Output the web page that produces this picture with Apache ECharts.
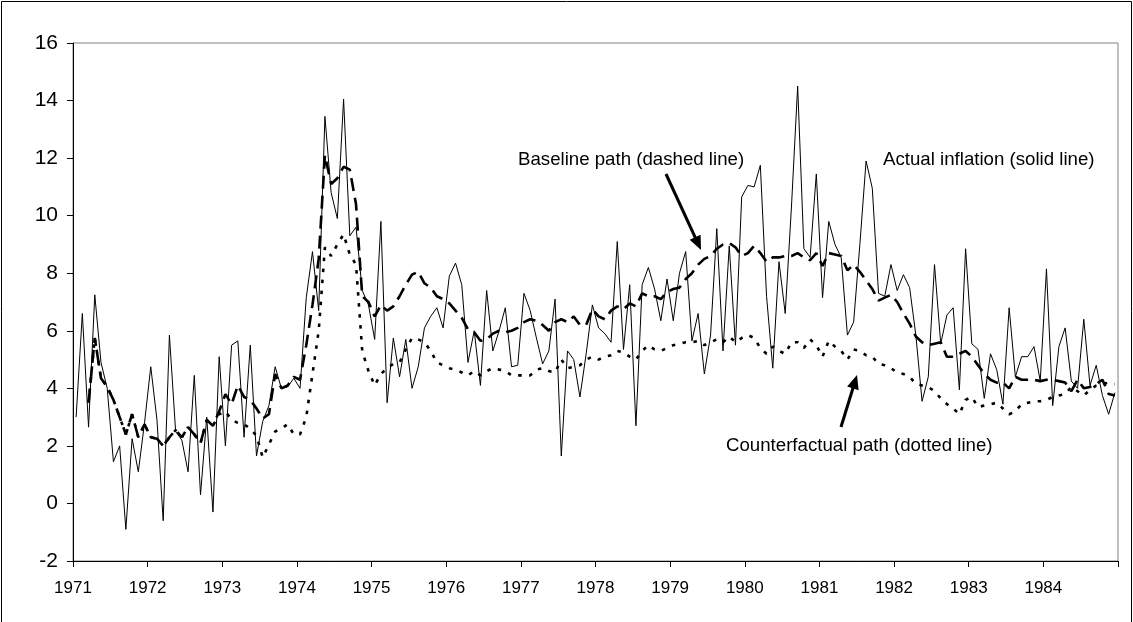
<!DOCTYPE html>
<html>
<head>
<meta charset="utf-8">
<script src="https://cdn.jsdelivr.net/npm/echarts@6/dist/echarts.min.js"></script>
<style>
html,body{margin:0;padding:0;background:#fff;}
#chart{width:1133px;height:622px;}
</style>
</head>
<body>
<div id="chart"></div>
<script>
// Tick labels (one per year; each year = 12 monthly observations)
const years = ['1971','1972','1973','1974','1975','1976','1977','1978','1979','1980','1981','1982','1983','1984'];

// Actual inflation (solid line), monthly 1971-1984
const actual = [
  3.0, 6.6, 2.65, 7.25, 4.9, 4.0, 1.45, 2.0, -0.9, 2.25, 1.1, 2.8,
  4.75, 2.9, -0.6, 5.85, 2.5, 2.2, 1.1, 4.45, 0.3, 3.0, -0.3, 5.1,
  2.0, 5.5, 5.65, 2.3, 5.5, 1.65, 2.85, 3.4, 4.75, 4.0, 4.05, 4.35,
  4.0, 7.15, 8.75, 6.7, 13.45, 10.8, 9.9, 14.05, 9.3, 9.6, 7.4, 6.9,
  5.7, 9.8, 3.5, 5.75, 4.4, 5.7, 4.0, 4.75, 6.1, 6.5, 6.8, 6.1,
  7.9, 8.35, 7.6, 4.9, 6.0, 4.1, 7.4, 5.3, 6.0, 6.8, 4.75, 4.8,
  7.3, 6.7, 5.75, 4.85, 5.3, 7.1, 1.65, 5.3, 5.0, 3.7, 5.2, 6.9,
  6.1, 5.9, 5.6, 9.1, 5.35, 7.6, 2.7, 7.6, 8.2, 7.45, 6.35, 7.8,
  6.35, 8.0, 8.75, 5.65, 6.6, 4.5, 5.85, 9.55, 5.3, 8.95, 5.5, 10.65,
  11.05, 11.0, 11.75, 7.2, 4.7, 8.4, 6.6, 10.3, 14.5, 8.85, 8.55, 11.45,
  7.15, 9.8, 9.0, 8.55, 5.85, 6.3, 9.0, 11.9, 10.95, 7.3, 7.2, 8.3,
  7.4, 7.95, 7.5, 5.85, 3.55, 4.4, 8.3, 5.55, 6.55, 6.8, 3.95, 8.85,
  5.55, 5.35, 3.65, 5.2, 4.65, 3.45, 6.8, 4.4, 5.1, 5.1, 5.45, 4.25,
  8.15, 3.4, 5.45, 6.1, 4.25, 4.0, 6.4, 4.1, 4.8, 3.75, 3.1, 3.85
];

// Baseline path (dashed line)
const baseline = [
  null, null, 3.5, 5.75, 4.35, 4.05, 3.6, 3.0, 2.4, 3.1, 2.3, 2.75,
  2.3, 2.25, 2.0, 2.3, 2.55, 2.3, 2.65, 2.4, 2.1, 2.9, 2.7, 3.2,
  3.8, 3.45, 4.1, 3.7, 3.6, 3.3, 2.95, 3.1, 4.5, 4.0, 4.1, 4.4,
  4.3, 5.5, 6.9, 8.5, 12.1, 11.1, 11.3, 11.7, 11.6, 10.4, 7.2, 7.0,
  6.5, 6.9, 6.7, 6.85, 7.2, 7.6, 7.95, 8.05, 7.65, 7.5, 7.2, 7.1,
  6.95, 6.7, 6.45, 6.05, 5.95, 5.65, 5.7, 5.9, 6.0, 5.95, 6.0, 6.1,
  6.3, 6.4, 6.35, 6.2, 6.0, 6.3, 6.4, 6.3, 6.5, 6.2, 6.2, 6.75,
  6.5, 6.4, 6.7, 6.85, 6.75, 6.95, 6.85, 7.3, 7.2, 7.2, 7.1, 7.35,
  7.45, 7.5, 7.8, 8.0, 8.3, 8.5, 8.6, 8.85, 9.0, 9.05, 8.9, 8.6,
  8.7, 8.95, 8.7, 8.4, 8.55, 8.55, 8.6, 8.6, 8.7, 8.55, 8.45, 8.7,
  8.25, 8.7, 8.65, 8.6, 8.1, 8.3, 8.05, 7.75, 7.45, 7.05, 7.15, 7.25,
  7.0, 6.6, 6.25, 5.8, 5.6, 5.5, 5.55, 5.6, 5.1, 5.1, 5.2, 5.3,
  5.1, 4.8, 4.5, 4.3, 4.2, 4.2, 4.0, 4.4, 4.3, 4.3, 4.3, 4.25,
  4.3, 4.3, 4.25, 4.2, 3.9, 4.3, 4.0, 4.05, 4.15, 4.3, 3.8, 3.75
];

// Counterfactual path (dotted line)
const counterfactual = [
  null, null, 3.5, 5.75, 4.35, 4.05, 3.6, 3.0, 2.4, 3.1, 2.3, 2.75,
  2.3, 2.25, 2.0, 2.3, 2.55, 2.3, 2.65, 2.4, 2.1, 2.9, 2.7, 3.1,
  3.2, 2.9, 2.8, 2.75, 2.6, 2.35, 1.6, 2.05, 2.5, 2.6, 2.75, 2.4,
  2.4, 3.0, 4.5, 6.0, 8.9, 8.6, 9.0, 9.35, 8.65, 8.3, 5.3, 4.6,
  4.1, 4.5, 4.7, 4.85, 4.9, 5.35, 5.75, 5.7, 5.6, 5.3, 4.9, 4.8,
  4.7, 4.65, 4.55, 4.45, 4.6, 4.45, 4.6, 4.7, 4.65, 4.6, 4.45, 4.45,
  4.45, 4.45, 4.65, 4.7, 4.6, 4.55, 5.0, 4.7, 4.75, 4.8, 5.0, 5.1,
  5.0, 5.1, 5.15, 5.3, 5.25, 5.1, 5.0, 5.3, 5.5, 5.35, 5.3, 5.4,
  5.5, 5.55, 5.6, 5.6, 5.65, 5.5, 5.6, 5.7, 5.6, 5.8, 5.6, 5.75,
  5.85, 5.75, 5.4, 5.2, 5.45, 5.3, 5.2, 5.6, 5.6, 5.4, 5.7, 5.5,
  5.1, 5.65, 5.45, 5.3, 5.0, 5.35, 5.3, 5.15, 5.1, 4.85, 4.8, 4.7,
  4.55, 4.5, 4.4, 4.15, 4.1, 4.05, 3.9, 3.65, 3.45, 3.3, 3.1, 3.6,
  3.7, 3.35, 3.4, 3.45, 3.5, 3.3, 3.1, 3.2, 3.45, 3.5, 3.55, 3.55,
  3.6, 3.7, 3.75, 3.8, 4.05, 3.9, 3.75, 3.95, 4.1, 4.15, 4.2, 4.15
];

const FONT = '"Liberation Sans", Arial, sans-serif';

// month i is drawn at the centre of its slot (i + 0.5) on a 0..168 month scale
function toPoints(arr) {
  return arr.map((v, i) => [i + 0.5, v]).filter(p => p[1] !== null);
}

function arrow(x1, y1, x2, y2) {
  const dx = x2 - x1, dy = y2 - y1;
  const len = Math.sqrt(dx * dx + dy * dy);
  const ux = dx / len, uy = dy / len;
  const hl = 14, hw = 6;
  const bx = x2 - ux * hl, by = y2 - uy * hl;
  return [
    { type: 'line', silent: true, shape: { x1: x1, y1: y1, x2: bx + ux * 2, y2: by + uy * 2 },
      style: { stroke: '#000', lineWidth: 3 } },
    { type: 'polygon', silent: true,
      shape: { points: [[x2, y2], [bx - uy * hw, by + ux * hw], [bx + uy * hw, by - ux * hw]] },
      style: { fill: '#000' } }
  ];
}

const chart = echarts.init(document.getElementById('chart'), null, { renderer: 'canvas' });

const graphics = [
  { type: 'polyline', silent: true, shape: { points: [[1.5, 622], [1.5, 1.5], [1131.5, 1.5], [1131.5, 622]] },
    style: { stroke: '#000', lineWidth: 1, fill: null } },
  { type: 'text', silent: true, x: 518, y: 160,
    style: { text: 'Baseline path (dashed line)', fill: '#000', fontSize: 18.67, fontFamily: FONT, align: 'left', verticalAlign: 'middle' } },
  { type: 'text', silent: true, x: 883, y: 160,
    style: { text: 'Actual inflation (solid line)', fill: '#000', fontSize: 18.67, fontFamily: FONT, align: 'left', verticalAlign: 'middle' } },
  { type: 'text', silent: true, x: 726, y: 446,
    style: { text: 'Counterfactual path (dotted line)', fill: '#000', fontSize: 18.67, fontFamily: FONT, align: 'left', verticalAlign: 'middle' } }
].concat(arrow(666, 174, 701, 250)).concat(arrow(841, 427, 857, 375));

chart.setOption({
  animation: false,
  backgroundColor: '#fff',
  grid: { left: 73, top: 43, width: 1045, height: 518, show: true, borderColor: '#808080', borderWidth: 1, backgroundColor: 'transparent' },
  xAxis: {
    type: 'value', min: 0, max: 168, interval: 12,
    axisLine: { show: true, onZero: false, lineStyle: { color: '#000', width: 1 } },
    axisTick: { show: true, length: 6, inside: false, lineStyle: { color: '#000', width: 1 } },
    axisLabel: { formatter: function (v) { return years[Math.round(v / 12)] || ''; },
                 fontFamily: FONT, fontSize: 17, color: '#000', margin: 19 },
    splitLine: { show: false }
  },
  yAxis: {
    type: 'value', min: -2, max: 16, interval: 2,
    axisLine: { show: true, onZero: false, lineStyle: { color: '#000', width: 1 } },
    axisTick: { show: true, length: 6, inside: false, lineStyle: { color: '#000', width: 1 } },
    axisLabel: { fontFamily: FONT, fontSize: 21, color: '#000', margin: 15 },
    splitLine: { show: false }
  },
  series: [
    { name: 'Counterfactual path', type: 'line', data: toPoints(counterfactual), showSymbol: false, symbol: 'none', silent: true,
      lineStyle: { color: '#000', width: 2.6, type: [3.5, 7.5], cap: 'butt' } },
    { name: 'Baseline path', type: 'line', data: toPoints(baseline), showSymbol: false, symbol: 'none', silent: true,
      lineStyle: { color: '#000', width: 2.6, type: [13, 7], cap: 'butt' } },
    { name: 'Actual inflation', type: 'line', data: toPoints(actual), showSymbol: false, symbol: 'none', silent: true,
      lineStyle: { color: '#000', width: 1 } }
  ],
  graphic: graphics
});
</script>
</body>
</html>
